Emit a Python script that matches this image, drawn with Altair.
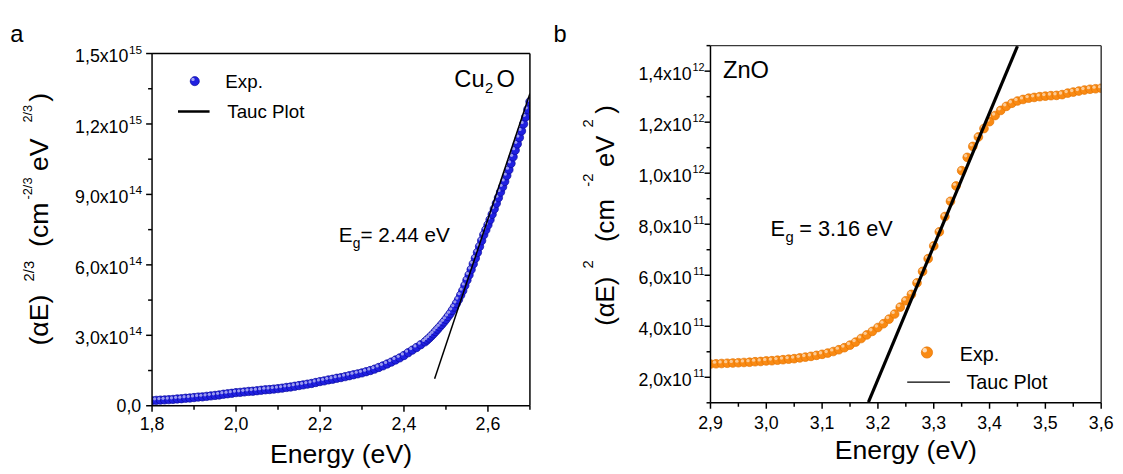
import altair as alt
import pandas as pd

FONT = "Liberation Sans"

# ---------------- Panel a : Cu2O ----------------
cu_E = [1.80, 1.81, 1.82, 1.83, 1.84, 1.85, 1.86, 1.87, 1.88, 1.89,
        1.90, 1.91, 1.92, 1.93, 1.94, 1.95, 1.96, 1.97, 1.98, 1.99,
        2.00, 2.01, 2.02, 2.03, 2.04, 2.05, 2.06, 2.07, 2.08, 2.09,
        2.10, 2.11, 2.12, 2.13, 2.14, 2.15, 2.16, 2.17, 2.18, 2.19,
        2.20, 2.21, 2.22, 2.23, 2.24, 2.25, 2.26, 2.27, 2.28, 2.29,
        2.30, 2.31, 2.32, 2.33, 2.34, 2.35, 2.36, 2.37, 2.38, 2.39,
        2.40, 2.41, 2.42, 2.43, 2.44, 2.45, 2.455, 2.46, 2.465, 2.47,
        2.475, 2.48, 2.485, 2.49, 2.495, 2.50, 2.505, 2.51, 2.515, 2.52,
        2.525, 2.53, 2.535, 2.54, 2.545, 2.55, 2.555, 2.56, 2.565, 2.57,
        2.575, 2.58, 2.585, 2.59, 2.595, 2.60, 2.605, 2.61, 2.615, 2.62,
        2.625, 2.63, 2.635, 2.64, 2.645, 2.65, 2.655, 2.66, 2.665, 2.67,
        2.675, 2.68, 2.685, 2.69, 2.695, 2.70]
# (alpha E)^(2/3) in units of 1e14
cu_v14 = [0.22, 0.23, 0.24, 0.25, 0.26, 0.27, 0.29, 0.30, 0.32, 0.33,
          0.35, 0.37, 0.38, 0.40, 0.42, 0.44, 0.46, 0.49, 0.51, 0.53,
          0.56, 0.57, 0.59, 0.61, 0.62, 0.64, 0.66, 0.68, 0.69, 0.71,
          0.73, 0.75, 0.78, 0.80, 0.83, 0.86, 0.89, 0.92, 0.95, 0.99,
          1.03, 1.06, 1.10, 1.13, 1.17, 1.20, 1.24, 1.28, 1.32, 1.36,
          1.40, 1.45, 1.50, 1.56, 1.63, 1.70, 1.78, 1.86, 1.95, 2.04,
          2.14, 2.26, 2.37, 2.48, 2.60, 2.72, 2.80, 2.88, 2.97, 3.06,
          3.16, 3.26, 3.36, 3.46, 3.57, 3.68, 3.80, 3.92, 4.06, 4.20,
          4.36, 4.52, 4.71, 4.90, 5.12, 5.35, 5.57, 5.80, 6.04, 6.28,
          6.53, 6.78, 7.03, 7.28, 7.49, 7.70, 7.92, 8.15, 8.38, 8.62,
          8.86, 9.10, 9.32, 9.55, 9.80, 10.05, 10.32, 10.60, 10.88, 11.15,
          11.42, 11.70, 12.00, 12.30, 12.62, 12.95]
cu_tauc_E = [2.473, 2.700]
cu_tauc_v = [1.15e14, 13.3e14]

a_x_major = [1.8, 2.0, 2.2, 2.4, 2.6]
a_x_labels = ["1,8", "2,0", "2,2", "2,4", "2,6"]
a_x_minor = [1.9, 2.1, 2.3, 2.5, 2.7]
a_y_major = [0.0, 3e14, 6e14, 9e14, 1.2e15, 1.5e15]
a_y_main = ["0,0", "3,0x10", "6,0x10", "9,0x10", "1,2x10", "1,5x10"]
a_y_exp = ["", "14", "14", "14", "15", "15"]
a_y_minor = [1.5e14, 4.5e14, 7.5e14, 1.05e15, 1.35e15]

# ---------------- Panel b : ZnO ----------------
zn_E = [2.90, 2.91, 2.92, 2.93, 2.94, 2.95, 2.96, 2.97, 2.98, 2.99,
        3.00, 3.01, 3.02, 3.03, 3.04, 3.05, 3.06, 3.07, 3.08, 3.09,
        3.10, 3.11, 3.12, 3.13, 3.14, 3.15, 3.16, 3.17, 3.18, 3.19,
        3.20, 3.21, 3.22, 3.23, 3.24, 3.25, 3.26, 3.27, 3.28, 3.29,
        3.30, 3.31, 3.32, 3.33, 3.34, 3.35, 3.36, 3.37, 3.38, 3.39,
        3.40, 3.41, 3.42, 3.43, 3.44, 3.45, 3.46, 3.47, 3.48, 3.49,
        3.50, 3.51, 3.52, 3.53, 3.54, 3.55, 3.56, 3.57, 3.58, 3.59, 3.60]
# (alpha E)^2 in units of 1e11
zn_v11 = [2.52, 2.53, 2.54, 2.55, 2.56, 2.57, 2.58, 2.59, 2.61, 2.62,
          2.64, 2.65, 2.67, 2.69, 2.71, 2.73, 2.76, 2.79, 2.82, 2.86,
          2.90, 2.95, 3.01, 3.08, 3.16, 3.26, 3.38, 3.52, 3.66, 3.80,
          3.95, 4.10, 4.28, 4.48, 4.75, 5.00, 5.25, 5.70, 6.15, 6.65,
          7.15, 7.70, 8.30, 8.90, 9.50, 10.10, 10.62, 11.05, 11.42, 11.75,
          12.02, 12.26, 12.46, 12.62, 12.74, 12.83, 12.89, 12.94, 12.97, 13.00,
          13.02, 13.04, 13.05, 13.08, 13.14, 13.18, 13.22, 13.26, 13.29, 13.31, 13.33]
zn_tauc_E = [3.183, 3.450]
zn_tauc_v = [1.03e11, 1.498e12]

b_x_major = [2.9, 3.0, 3.1, 3.2, 3.3, 3.4, 3.5, 3.6]
b_x_labels = ["2,9", "3,0", "3,1", "3,2", "3,3", "3,4", "3,5", "3,6"]
b_x_minor = [2.95, 3.05, 3.15, 3.25, 3.35, 3.45, 3.55]
b_y_major = [2e11, 4e11, 6e11, 8e11, 1.0e12, 1.2e12, 1.4e12]
b_y_main = ["2,0x10", "4,0x10", "6,0x10", "8,0x10", "1,0x10", "1,2x10", "1,4x10"]
b_y_exp = ["11", "11", "11", "11", "12", "12", "12"]
b_y_minor = [1e11, 3e11, 5e11, 7e11, 9e11, 1.1e12, 1.3e12, 1.5e12]

# ---------------- helpers ----------------
ONE = pd.DataFrame({"k": [0]})


def ptext(txt, x, y, size, angle=0, align="left", baseline="alphabetic"):
    kw = dict(text=txt, fontSize=size, font=FONT, color="black",
              align=align, baseline=baseline)
    if angle:
        kw["angle"] = angle
    return alt.Chart(ONE).mark_text(**kw).encode(x=alt.value(x), y=alt.value(y))


def hrule(x1, x2, y, w=1.5, c="black"):
    return alt.Chart(ONE).mark_rule(color=c, strokeWidth=w).encode(
        x=alt.value(x1), x2=alt.value(x2), y=alt.value(y))


def vrule(x, y1, y2, w=1.5, c="black"):
    return alt.Chart(ONE).mark_rule(color=c, strokeWidth=w).encode(
        x=alt.value(x), y=alt.value(y1), y2=alt.value(y2))


def panel(E, v, tE, tv, xdom, ydom, xmaj, xlab, xmin, ymaj, ymain, yexp, ymin,
          W, H, T, fill, stroke, msize, tauc_w, main_dx, exp_dx, exp_fs,
          xlab_dy, xtitle_dy, frame_c):
    xs = alt.Scale(domain=xdom, nice=False, zero=False)
    ys = alt.Scale(domain=ydom, nice=False, zero=False, range=[H, T])
    X = lambda: alt.X("E:Q", scale=xs, axis=None)
    Y = lambda: alt.Y("v:Q", scale=ys, axis=None)
    df = pd.DataFrame({"E": E, "v": v})
    pts = alt.Chart(df).mark_circle(size=msize, opacity=1, fill=fill, stroke=stroke,
                                    strokeWidth=0.7, clip=True).encode(x=X(), y=Y())
    hl = alt.Chart(df).mark_circle(size=msize * 0.15, color="white", opacity=0.55,
                                   xOffset=-1.6, yOffset=-1.6, clip=True).encode(x=X(), y=Y())
    tdf = pd.DataFrame({"E": tE, "v": tv})
    tauc = alt.Chart(tdf).mark_line(color="black", strokeWidth=tauc_w, clip=True).encode(
        x=X(), y=Y())
    # frame
    frame = [hrule(0, W, T, c=frame_c), vrule(W, T, H, c=frame_c),
             vrule(0, T, H), hrule(0, W, H)]
    # ticks and labels
    xmaj_df = pd.DataFrame({"E": xmaj, "lab": xlab})
    xmajor = alt.Chart(xmaj_df).mark_rule(color="black", strokeWidth=1.5).encode(
        x=X(), y=alt.value(H), y2=alt.value(H + 6))
    xlabels = alt.Chart(xmaj_df).mark_text(
        align="center", baseline="alphabetic", fontSize=18, font=FONT, color="black"
    ).encode(x=X(), y=alt.value(H + xlab_dy), text="lab:N")
    xminor = alt.Chart(pd.DataFrame({"E": xmin})).mark_rule(
        color="black", strokeWidth=1.5).encode(x=X(), y=alt.value(H), y2=alt.value(H + 4))
    lab = pd.DataFrame({"v": ymaj, "main": ymain, "exp": yexp})
    ymajor = alt.Chart(lab).mark_rule(color="black", strokeWidth=1.5).encode(
        y=Y(), x=alt.value(-6), x2=alt.value(0))
    yminor = alt.Chart(pd.DataFrame({"v": ymin})).mark_rule(
        color="black", strokeWidth=1.5).encode(y=Y(), x=alt.value(-4), x2=alt.value(0))
    lmain = alt.Chart(lab).transform_filter("datum.exp != ''").mark_text(
        align="right", baseline="alphabetic", dy=9, fontSize=18, font=FONT,
        color="black").encode(x=alt.value(main_dx), y=Y(), text="main:N")
    lexp = alt.Chart(lab).transform_filter("datum.exp != ''").mark_text(
        align="right", baseline="alphabetic", dy=0, fontSize=exp_fs, font=FONT,
        color="black").encode(x=alt.value(exp_dx), y=Y(), text="exp:N")
    lzero = alt.Chart(lab).transform_filter("datum.exp == ''").mark_text(
        align="right", baseline="alphabetic", dy=6, fontSize=18, font=FONT,
        color="black").encode(x=alt.value(exp_dx - 1), y=Y(), text="main:N")
    xtitle = ptext("Energy (eV)", W / 2, H + xtitle_dy, 27, align="center")
    return [pts, hl, tauc, *frame, xmajor, xminor, xlabels, ymajor, yminor,
            lmain, lexp, lzero, xtitle]


# ---------- panel a  (plot: x 0..383, y 8..365 in group coords) ----------
AW, AH, AT = 383, 365, 8
BLUE = "#2020e0"
a_layers = panel(cu_E, [x * 1e14 for x in cu_v14], cu_tauc_E, cu_tauc_v,
                 [1.8, 2.7], [0, 1.5e15], a_x_major, a_x_labels, a_x_minor,
                 a_y_major, a_y_main, a_y_exp, a_y_minor, AW, AH, AT,
                 BLUE, "#0a0a9c", 72, 1.5, -24, -10, 12, 25, 58, "black")

a_extra = [
    ptext("a", -143.7, -4, 24),
    # y-axis title pieces (rotated)
    ptext("(\u03b1E)", -105.7, 304, 27, angle=270),
    ptext("2/3", -119.7, 239, 15, angle=270),
    ptext("(cm", -105.7, 204, 27, angle=270),
    ptext("-2/3", -121.7, 156, 13, angle=270),
    ptext("eV", -105.7, 127, 27, angle=270),
    ptext("2/3", -121.7, 78, 13, angle=270),
    ptext(")", -105.7, 57, 27, angle=270),
    # legend
    alt.Chart(ONE).mark_circle(size=85, fill=BLUE, stroke="#0a0a9c",
                               strokeWidth=0.7, opacity=1).encode(
        x=alt.value(43.3), y=alt.value(36)),
    alt.Chart(ONE).mark_circle(size=12, color="white", opacity=0.6).encode(
        x=alt.value(41.5), y=alt.value(34.2)),
    ptext("Exp.", 74.3, 42.7, 19),
    hrule(26.3, 58.3, 66.7, w=2.5),
    ptext("Tauc Plot", 76.3, 73.3, 19),
    # sample name
    ptext("Cu", 337.0, 41.7, 24, align="right"),
    ptext("2", 337.5, 47.7, 15),
    ptext("O", 349.0, 41.7, 24),
    # band gap
    ptext("E", 203.3, 199.3, 21, align="right"),
    ptext("g", 203.5, 205.5, 14),
    ptext("= 2.44 eV", 211.3, 199.3, 21),
]
chart_a = alt.layer(*a_layers, *a_extra).properties(width=AW, height=AH)

# ---------- panel b  (plot: x 0..396, y 0..362) ----------
BW, BH, BT = 396, 362, 0
ORANGE = "#f98a13"
b_layers = panel(zn_E, [x * 1e11 for x in zn_v11], zn_tauc_E, zn_tauc_v,
                 [2.9, 3.6], [1e11, 1.5e12], b_x_major, b_x_labels, b_x_minor,
                 b_y_major, b_y_main, b_y_exp, b_y_minor, BW, BH, BT,
                 ORANGE, "#e57300", 78, 3.2, -19, -6, 11, 27, 57, "#3a3a3a")
b_extra = [
    ptext("b", -159, -4, 24),
    ptext("(\u03b1E)", -97.8, 284, 26, angle=270),
    ptext("2", -119.0, 226, 15, angle=270),
    ptext("(cm", -97.8, 199, 26, angle=270),
    ptext("-2", -119.0, 143, 15, angle=270),
    ptext("eV", -97.8, 123, 26, angle=270),
    ptext("2", -119.0, 83, 15, angle=270),
    ptext(")", -97.8, 69, 26, angle=270),
    alt.Chart(ONE).mark_circle(size=130, fill=ORANGE, stroke="#e57300",
                               strokeWidth=0.7, opacity=1).encode(
        x=alt.value(219.4), y=alt.value(311)),
    alt.Chart(ONE).mark_circle(size=20, color="white", opacity=0.7).encode(
        x=alt.value(217.2), y=alt.value(308.8)),
    ptext("Exp.", 252.7, 319.3, 20),
    hrule(199.4, 242.7, 341, w=1.2),
    ptext("Tauc Plot", 259.4, 347.7, 20),
    ptext("ZnO", 12.7, 32.7, 24),
    ptext("E", 75.5, 192.7, 22, align="right"),
    ptext("g", 76.0, 199.5, 15),
    ptext("= 3.16 eV", 90.0, 192.7, 22),
]
chart_b = alt.layer(*b_layers, *b_extra).properties(width=BW, height=BH)

chart = alt.hconcat(chart_a, chart_b, spacing=21).properties(
    padding={"left": 1, "top": 11, "right": 0, "bottom": 0}
).configure_view(stroke="transparent")

chart.save("out.html", embed_options={"renderer": "svg", "actions": False})
